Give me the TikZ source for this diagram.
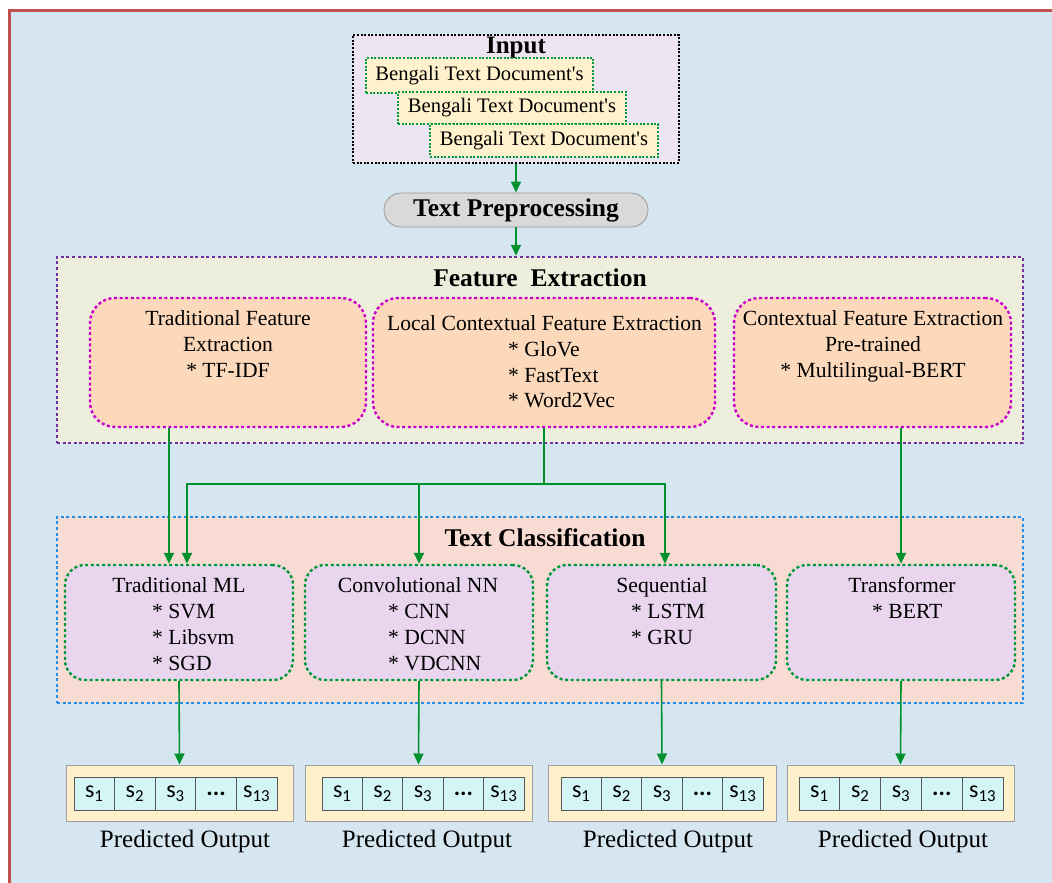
\documentclass[tikz,border=0pt]{standalone}
\usepackage{fontspec}
\setmainfont{Liberation Serif}
\newfontfamily\docfont[Ligatures=TeXOff]{Liberation Serif}
\newfontfamily\cellfont{Carlito}
\usetikzlibrary{arrows.meta}
\definecolor{bgblue}{HTML}{D5E6F0}
\definecolor{frame}{HTML}{C0504D}
\definecolor{inputfill}{HTML}{ECE4F0}
\definecolor{docfill}{HTML}{FFF2CC}
\definecolor{dotgreen}{HTML}{00993A}
\definecolor{arrgreen}{HTML}{00912E}
\definecolor{prefill}{HTML}{D9D9D9}
\definecolor{fefill}{HTML}{EDEEDC}
\definecolor{purp}{HTML}{7030A0}
\definecolor{mag}{HTML}{CC00CC}
\definecolor{peach}{HTML}{FDD9BC}
\definecolor{tcfill}{HTML}{F8DCD4}
\definecolor{dotblue}{HTML}{1E8FE6}
\definecolor{lav}{HTML}{E9D5EE}
\definecolor{cellfill}{HTML}{D4F5F5}
\definecolor{outfill}{HTML}{FFF0CC}
\newcommand\cellrow[3]{%
  \foreach \i/\lab in {1/{s\textsubscript{1}},2/{s\textsubscript{2}},3/{s\textsubscript{3}},4/{\textbf{...}},5/{s\textsubscript{13}}}{%
    \pgfmathsetmacro\cw{(#3-#2)/5}%
    \pgfmathsetmacro\cx{#2+(\i-0.5)*\cw}%
    \node[cell, minimum width=\cw pt] (#1c\i) at (\cx,793.5) {\lab};
  }}
\begin{document}
\begin{tikzpicture}[x=1pt,y=-1pt,
  txt/.style={font=\fontsize{21.6}{26}\selectfont, inner sep=0, anchor=base},
  bul/.style={txt, anchor=base west},
  ttl/.style={font=\bfseries\fontsize{25.5}{30}\selectfont, inner sep=0, anchor=base},
  dots/.style={line width=2.4pt, dash pattern=on 3pt off 2.6pt},
  fine/.style={line width=1.3pt, dash pattern=on 2pt off 1.6pt},
  inputbox/.style={draw=black, fine, fill=inputfill, minimum width=326, minimum height=128, inner sep=0},
  docbox/.style={draw=dotgreen, fine, fill=docfill, inner sep=0, font=\docfont\fontsize{20.6}{24}\selectfont},
  prebox/.style={draw=gray!80, line width=0.8pt, fill=prefill, rounded corners=17pt, minimum width=264, minimum height=34, inner sep=0, font=\bfseries\fontsize{25.5}{30}\selectfont},
  bigbox/.style={dots, minimum width=966, minimum height=186, inner sep=0},
  febox/.style={draw=mag, dots, fill=peach, rounded corners=25pt, minimum height=129, inner sep=0},
  tcbox/.style={draw=dotgreen, dots, fill=lav, rounded corners=20pt, minimum height=115, inner sep=0},
  outbox/.style={draw=gray!75, line width=1pt, fill=outfill, minimum height=56, inner sep=0},
  cell/.style={draw=gray!70!black, line width=0.8pt, fill=cellfill, minimum height=33, inner sep=0, font=\cellfont\fontsize{24}{26}\selectfont},
  arr/.style={draw=arrgreen, line width=1.6pt, -{Triangle[length=11pt,width=10pt]}},
  ln/.style={draw=arrgreen, line width=1.6pt},
  pout/.style={txt, font=\fontsize{25}{30}\selectfont}
]
\useasboundingbox (0,0) rectangle (1052,883);
\clip (0,0) rectangle (1052,883);
\fill[white] (0,0) rectangle (1052,883);
\draw[line width=3.5pt, draw=frame, fill=bgblue] (9.5,10.5) rectangle (1080,910);

% Input
\node[inputbox] (input) at (516,99) {};
\node[ttl, font=\bfseries\fontsize{25}{30}\selectfont] (inputt) at (516,54) {Input};
\node[docbox, minimum width=227, minimum height=35] (b1) at (479.5,75.5) {Bengali Text Document's};
\node[docbox, minimum width=228, minimum height=32] (b2) at (512,108) {Bengali Text Document's};
\node[docbox, minimum width=228, minimum height=33] (b3) at (544,140.5) {Bengali Text Document's};

% Preprocessing
\node[prebox] (pre) at (516,210) {Text Preprocessing};

% Feature extraction
\node[bigbox, draw=purp, fill=fefill] (fe) at (540,350) {};
\node[ttl] (fet) at (540,286) {Feature\ \ Extraction};
\node[febox, minimum width=276] (fe1) at (228,362.5) {};
\node[febox, minimum width=342] (fe2) at (544,362.5) {};
\node[febox, minimum width=277] (fe3) at (872.5,362.5) {};
\node[txt] (fe1a) at (228,325) {Traditional Feature};
\node[txt] (fe1b) at (228,351) {Extraction};
\node[txt] (fe1c) at (228,377) {* TF-IDF};
\node[txt] (fe2a) at (544.5,330) {Local Contextual Feature Extraction};
\node[bul] (fe2b) at (508,356) {* GloVe};
\node[bul] (fe2c) at (508,382) {* FastText};
\node[bul] (fe2d) at (508,407) {* Word2Vec};
\node[txt] (fe3a) at (873,325) {Contextual Feature Extraction};
\node[txt] (fe3b) at (873,351) {Pre-trained};
\node[txt] (fe3c) at (873,377) {* Multilingual-BERT};

% Text classification
\node[bigbox, draw=dotblue, fill=tcfill] (tc) at (540,610) {};
\node[ttl] (tct) at (545,546) {Text Classification};
\node[tcbox, minimum width=228] (tml) at (179,622.5) {};
\node[tcbox, minimum width=228] (cnn) at (419,622.5) {};
\node[tcbox, minimum width=229] (seq) at (661.5,622.5) {};
\node[tcbox, minimum width=228] (trans) at (901,622.5) {};
\node[txt] (tmla) at (179,592) {Traditional ML};
\node[bul] (tmlb) at (152,618) {* SVM};
\node[bul] (tmlc) at (152,644) {* Libsvm};
\node[bul] (tmld) at (152,670) {* SGD};
\node[txt] (cnna) at (418,592) {Convolutional NN};
\node[bul] (cnnb) at (388,618) {* CNN};
\node[bul] (cnnc) at (388,644) {* DCNN};
\node[bul] (cnnd) at (388,670) {* VDCNN};
\node[txt] (seqa) at (662,592) {Sequential};
\node[bul] (seqb) at (631,618) {* LSTM};
\node[bul] (seqc) at (631,644) {* GRU};
\node[txt] (transa) at (902,592) {Transformer};
\node[bul] (transb) at (872,618) {* BERT};

% Outputs
\node[outbox, minimum width=227] (o1) at (179.5,793) {};
\node[outbox, minimum width=227] (o2) at (418.5,793) {};
\node[outbox, minimum width=228] (o3) at (662,793) {};
\node[outbox, minimum width=227] (o4) at (900.5,793) {};
\cellrow{o1}{74}{277}
\cellrow{o2}{322}{524}
\cellrow{o3}{561}{763}
\cellrow{o4}{799}{1003}
\node[pout] (p1) at (185,847) {Predicted Output};
\node[pout] (p2) at (427,847) {Predicted Output};
\node[pout] (p3) at (668,847) {Predicted Output};
\node[pout] (p4) at (903,847) {Predicted Output};

% Connectors
\draw[arr] (input.south) -- (input.south |- pre.north);
\draw[arr] (pre.south) -- (pre.south |- fe.north);
\draw[arr] ([xshift=-59pt]fe1.south) -- ([xshift=-10pt]tml.north);
\coordinate (j) at (544,484);
\draw[ln] (fe2.south) -- (j);
\draw[arr] (j) -| ([xshift=8pt]tml.north);
\draw[arr] (j) -| (cnn.north);
\draw[arr] (j) -| ([xshift=3.5pt]seq.north);
\draw[arr] (fe3.south -| trans.north) -- (trans.north);
\draw[arr] (tml.south) -- (o1.north);
\draw[arr] (cnn.south) -- (o2.north);
\draw[arr] (seq.south) -- (o3.north);
\draw[arr] (trans.south) -- (o4.north);
\end{tikzpicture}
\end{document}
